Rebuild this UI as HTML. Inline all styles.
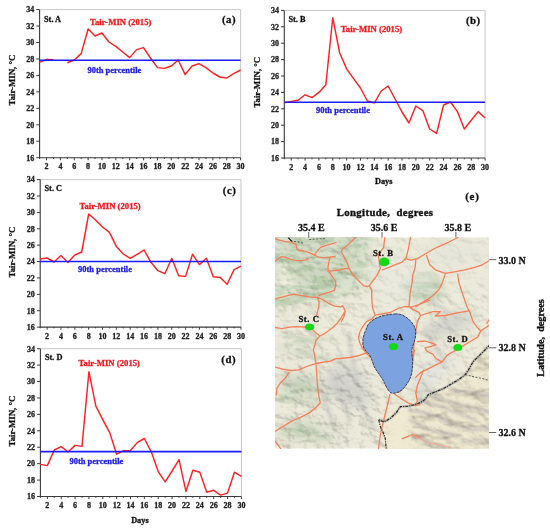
<!DOCTYPE html>
<html><head><meta charset="utf-8"><style>
html,body{margin:0;padding:0;background:#fff;}
svg{display:block;}
text{font-family:"Liberation Serif", serif;font-weight:bold;stroke-width:0.3px;paint-order:stroke;}
.tk,.lb,.st,.yl,.dy,.ms,.ax{stroke:#222;}
.tr{stroke:#f01c1c;}
.pc{stroke:#2020e0;}
.tk{font-size:8px;fill:#222;}
.tr{font-size:8.7px;fill:#f01c1c;}
.pc{font-size:8.5px;fill:#2020e0;}
.lb{font-size:10.8px;fill:#111;letter-spacing:0.5px;}
.st{font-size:8.3px;fill:#111;}
.yl{font-size:8.8px;fill:#111;}
.dy{font-size:8.3px;fill:#111;}
.ms{font-size:8.7px;fill:#111;letter-spacing:0.55px;}
.ax{font-size:10px;fill:#111;}
</style></head><body>
<svg width="550" height="530" viewBox="0 0 550 530">
<defs><filter id="gb" x="0" y="0" width="100%" height="100%"><feGaussianBlur stdDeviation="0.3"/></filter></defs>
<g filter="url(#gb)">
<rect width="550" height="530" fill="#fff"/>
<path d="M39.6 9.6H240.6V157.7" fill="none" stroke="#c8c8c8" stroke-width="1"/>
<path d="M39.6 9.6V157.7H240.6" fill="none" stroke="#3a3a3a" stroke-width="1.1"/>
<path d="M36.3 9.6H39.6M36.3 26.06H39.6M36.3 42.51H39.6M36.3 58.97H39.6M36.3 75.42H39.6M36.3 91.88H39.6M36.3 108.33H39.6M36.3 124.79H39.6M36.3 141.24H39.6M36.3 157.7H39.6M39.6 157.7V159M46.53 157.7V160.3M53.46 157.7V159M60.39 157.7V160.3M67.32 157.7V159M74.26 157.7V160.3M81.19 157.7V159M88.12 157.7V160.3M95.05 157.7V159M101.98 157.7V160.3M108.91 157.7V159M115.84 157.7V160.3M122.77 157.7V159M129.7 157.7V160.3M136.63 157.7V159M143.57 157.7V160.3M150.5 157.7V159M157.43 157.7V160.3M164.36 157.7V159M171.29 157.7V160.3M178.22 157.7V159M185.15 157.7V160.3M192.08 157.7V159M199.01 157.7V160.3M205.94 157.7V159M212.88 157.7V160.3M219.81 157.7V159M226.74 157.7V160.3M233.67 157.7V159M240.6 157.7V160.3" stroke="#3a3a3a" stroke-width="1"/>
<text x="34.2" y="12.4" class="tk" text-anchor="end">34</text>
<text x="34.2" y="28.86" class="tk" text-anchor="end">32</text>
<text x="34.2" y="45.31" class="tk" text-anchor="end">30</text>
<text x="34.2" y="61.77" class="tk" text-anchor="end">28</text>
<text x="34.2" y="78.22" class="tk" text-anchor="end">26</text>
<text x="34.2" y="94.68" class="tk" text-anchor="end">24</text>
<text x="34.2" y="111.13" class="tk" text-anchor="end">22</text>
<text x="34.2" y="127.59" class="tk" text-anchor="end">20</text>
<text x="34.2" y="144.04" class="tk" text-anchor="end">18</text>
<text x="34.2" y="160.5" class="tk" text-anchor="end">16</text>
<text x="46.53" y="169.3" class="tk" text-anchor="middle">2</text>
<text x="60.39" y="169.3" class="tk" text-anchor="middle">4</text>
<text x="74.26" y="169.3" class="tk" text-anchor="middle">6</text>
<text x="88.12" y="169.3" class="tk" text-anchor="middle">8</text>
<text x="101.98" y="169.3" class="tk" text-anchor="middle">10</text>
<text x="115.84" y="169.3" class="tk" text-anchor="middle">12</text>
<text x="129.7" y="169.3" class="tk" text-anchor="middle">14</text>
<text x="143.57" y="169.3" class="tk" text-anchor="middle">16</text>
<text x="157.43" y="169.3" class="tk" text-anchor="middle">18</text>
<text x="171.29" y="169.3" class="tk" text-anchor="middle">20</text>
<text x="185.15" y="169.3" class="tk" text-anchor="middle">22</text>
<text x="199.01" y="169.3" class="tk" text-anchor="middle">24</text>
<text x="212.88" y="169.3" class="tk" text-anchor="middle">26</text>
<text x="226.74" y="169.3" class="tk" text-anchor="middle">28</text>
<text x="240.6" y="169.3" class="tk" text-anchor="middle">30</text>
<path d="M39.6 62.3 L46.53 59.4 L53.46 59.7M67.32 62.7 L74.26 60 L81.19 53.6 L88.12 29 L95.05 36 L101.98 33 L108.91 42 L115.84 46.4 L122.77 52 L129.7 57.6 L136.63 49.6 L143.57 47.6 L150.5 58 L157.43 67.6 L164.36 68.4 L171.29 66 L178.22 60 L185.15 74.6 L192.08 66 L199.01 63.6 L205.94 67.6 L212.88 73 L219.81 77 L226.74 78 L233.67 73.6 L240.6 70" fill="none" stroke="#ff2020" stroke-width="1.45" stroke-linejoin="round"/>
<line x1="39.6" y1="60.3" x2="240.6" y2="60.3" stroke="#1a1af5" stroke-width="1.55"/>
<text x="90" y="24.6" class="tr">Tair-MIN (2015)</text>
<text x="87.4" y="73.4" class="pc">90th percentile</text>
<text x="222" y="23.4" class="lb">(a)</text>
<text x="44" y="21.9" class="st">St. A</text>
<text transform="translate(15.3 80) rotate(-90)" class="yl" text-anchor="middle">Tair-MIN, °C</text>
<path d="M284.3 10.4H485.1V158" fill="none" stroke="#c8c8c8" stroke-width="1"/>
<path d="M284.3 10.4V158H485.1" fill="none" stroke="#3a3a3a" stroke-width="1.1"/>
<path d="M281 10.4H284.3M281 26.8H284.3M281 43.2H284.3M281 59.6H284.3M281 76H284.3M281 92.4H284.3M281 108.8H284.3M281 125.2H284.3M281 141.6H284.3M281 158H284.3M284.3 158V159.3M291.22 158V160.6M298.15 158V159.3M305.07 158V160.6M312 158V159.3M318.92 158V160.6M325.84 158V159.3M332.77 158V160.6M339.69 158V159.3M346.62 158V160.6M353.54 158V159.3M360.47 158V160.6M367.39 158V159.3M374.31 158V160.6M381.24 158V159.3M388.16 158V160.6M395.09 158V159.3M402.01 158V160.6M408.93 158V159.3M415.86 158V160.6M422.78 158V159.3M429.71 158V160.6M436.63 158V159.3M443.56 158V160.6M450.48 158V159.3M457.4 158V160.6M464.33 158V159.3M471.25 158V160.6M478.18 158V159.3M485.1 158V160.6" stroke="#3a3a3a" stroke-width="1"/>
<text x="278.9" y="13.2" class="tk" text-anchor="end">34</text>
<text x="278.9" y="29.6" class="tk" text-anchor="end">32</text>
<text x="278.9" y="46" class="tk" text-anchor="end">30</text>
<text x="278.9" y="62.4" class="tk" text-anchor="end">28</text>
<text x="278.9" y="78.8" class="tk" text-anchor="end">26</text>
<text x="278.9" y="95.2" class="tk" text-anchor="end">24</text>
<text x="278.9" y="111.6" class="tk" text-anchor="end">22</text>
<text x="278.9" y="128" class="tk" text-anchor="end">20</text>
<text x="278.9" y="144.4" class="tk" text-anchor="end">18</text>
<text x="278.9" y="160.8" class="tk" text-anchor="end">16</text>
<text x="291.22" y="169.6" class="tk" text-anchor="middle">2</text>
<text x="305.07" y="169.6" class="tk" text-anchor="middle">4</text>
<text x="318.92" y="169.6" class="tk" text-anchor="middle">6</text>
<text x="332.77" y="169.6" class="tk" text-anchor="middle">8</text>
<text x="346.62" y="169.6" class="tk" text-anchor="middle">10</text>
<text x="360.47" y="169.6" class="tk" text-anchor="middle">12</text>
<text x="374.31" y="169.6" class="tk" text-anchor="middle">14</text>
<text x="388.16" y="169.6" class="tk" text-anchor="middle">16</text>
<text x="402.01" y="169.6" class="tk" text-anchor="middle">18</text>
<text x="415.86" y="169.6" class="tk" text-anchor="middle">20</text>
<text x="429.71" y="169.6" class="tk" text-anchor="middle">22</text>
<text x="443.56" y="169.6" class="tk" text-anchor="middle">24</text>
<text x="457.4" y="169.6" class="tk" text-anchor="middle">26</text>
<text x="471.25" y="169.6" class="tk" text-anchor="middle">28</text>
<text x="485.1" y="169.6" class="tk" text-anchor="middle">30</text>
<path d="M284.3 102.8 L291.22 101.5 L298.15 100.3 L305.07 94.8 L312 97.6 L318.92 92.4 L325.84 84.8 L332.77 17.8 L339.69 53 L346.62 68.8 L353.54 78.6 L360.47 88 L367.39 101 L374.31 103 L381.24 91 L388.16 86 L395.09 99 L402.01 112 L408.93 123 L415.86 106 L422.78 110.6 L429.71 129 L436.63 133.4 L443.56 105 L450.48 102 L457.4 111.6 L464.33 129 L471.25 120.2 L478.18 111.6 L485.1 118" fill="none" stroke="#ff2020" stroke-width="1.45" stroke-linejoin="round"/>
<line x1="284.3" y1="102.3" x2="485.1" y2="102.3" stroke="#1a1af5" stroke-width="1.55"/>
<text x="340.8" y="32.4" class="tr">Tair-MIN (2015)</text>
<text x="316" y="113.4" class="pc">90th percentile</text>
<text x="465.9" y="24.3" class="lb">(b)</text>
<text x="288.4" y="22.3" class="st">St. B</text>
<text transform="translate(259.9 82.2) rotate(-90)" class="yl" text-anchor="middle">Tair-MIN, °C</text>
<text x="383.7" y="184.3" class="dy" text-anchor="middle">Days</text>
<path d="M40.2 179.6H241V327.1" fill="none" stroke="#c8c8c8" stroke-width="1"/>
<path d="M40.2 179.6V327.1H241" fill="none" stroke="#3a3a3a" stroke-width="1.1"/>
<path d="M36.9 179.6H40.2M36.9 195.99H40.2M36.9 212.38H40.2M36.9 228.77H40.2M36.9 245.16H40.2M36.9 261.54H40.2M36.9 277.93H40.2M36.9 294.32H40.2M36.9 310.71H40.2M36.9 327.1H40.2M40.2 327.1V328.4M47.12 327.1V329.7M54.05 327.1V328.4M60.97 327.1V329.7M67.9 327.1V328.4M74.82 327.1V329.7M81.74 327.1V328.4M88.67 327.1V329.7M95.59 327.1V328.4M102.52 327.1V329.7M109.44 327.1V328.4M116.37 327.1V329.7M123.29 327.1V328.4M130.21 327.1V329.7M137.14 327.1V328.4M144.06 327.1V329.7M150.99 327.1V328.4M157.91 327.1V329.7M164.83 327.1V328.4M171.76 327.1V329.7M178.68 327.1V328.4M185.61 327.1V329.7M192.53 327.1V328.4M199.46 327.1V329.7M206.38 327.1V328.4M213.3 327.1V329.7M220.23 327.1V328.4M227.15 327.1V329.7M234.08 327.1V328.4M241 327.1V329.7" stroke="#3a3a3a" stroke-width="1"/>
<text x="34.8" y="182.4" class="tk" text-anchor="end">34</text>
<text x="34.8" y="198.79" class="tk" text-anchor="end">32</text>
<text x="34.8" y="215.18" class="tk" text-anchor="end">30</text>
<text x="34.8" y="231.57" class="tk" text-anchor="end">28</text>
<text x="34.8" y="247.96" class="tk" text-anchor="end">26</text>
<text x="34.8" y="264.34" class="tk" text-anchor="end">24</text>
<text x="34.8" y="280.73" class="tk" text-anchor="end">22</text>
<text x="34.8" y="297.12" class="tk" text-anchor="end">20</text>
<text x="34.8" y="313.51" class="tk" text-anchor="end">18</text>
<text x="34.8" y="329.9" class="tk" text-anchor="end">16</text>
<text x="47.12" y="338.7" class="tk" text-anchor="middle">2</text>
<text x="60.97" y="338.7" class="tk" text-anchor="middle">4</text>
<text x="74.82" y="338.7" class="tk" text-anchor="middle">6</text>
<text x="88.67" y="338.7" class="tk" text-anchor="middle">8</text>
<text x="102.52" y="338.7" class="tk" text-anchor="middle">10</text>
<text x="116.37" y="338.7" class="tk" text-anchor="middle">12</text>
<text x="130.21" y="338.7" class="tk" text-anchor="middle">14</text>
<text x="144.06" y="338.7" class="tk" text-anchor="middle">16</text>
<text x="157.91" y="338.7" class="tk" text-anchor="middle">18</text>
<text x="171.76" y="338.7" class="tk" text-anchor="middle">20</text>
<text x="185.61" y="338.7" class="tk" text-anchor="middle">22</text>
<text x="199.46" y="338.7" class="tk" text-anchor="middle">24</text>
<text x="213.3" y="338.7" class="tk" text-anchor="middle">26</text>
<text x="227.15" y="338.7" class="tk" text-anchor="middle">28</text>
<text x="241" y="338.7" class="tk" text-anchor="middle">30</text>
<path d="M40.2 259 L47.12 258 L54.05 262 L60.97 255.4 L67.9 262.6 L74.82 255 L81.74 252 L88.67 214 L95.59 220 L102.52 227 L109.44 232.4 L116.37 246.4 L123.29 254 L130.21 258.4 L137.14 254.4 L144.06 250 L150.99 262.3 L157.91 270.7 L164.83 273.7 L171.76 258.3 L178.68 275.7 L185.61 276.4 L192.53 254.2 L199.46 264.6 L206.38 258.3 L213.3 276.8 L220.23 277.5 L227.15 284.3 L234.08 269.6 L241 266.2" fill="none" stroke="#ff2020" stroke-width="1.45" stroke-linejoin="round"/>
<line x1="40.2" y1="261.5" x2="241" y2="261.5" stroke="#1a1af5" stroke-width="1.55"/>
<text x="79.4" y="209.4" class="tr">Tair-MIN (2015)</text>
<text x="78" y="272" class="pc">90th percentile</text>
<text x="222.8" y="194.4" class="lb">(c)</text>
<text x="44.5" y="190.9" class="st">St. C</text>
<text transform="translate(15.4 252) rotate(-90)" class="yl" text-anchor="middle">Tair-MIN, °C</text>
<path d="M40.4 348.7H241.4V496.5" fill="none" stroke="#c8c8c8" stroke-width="1"/>
<path d="M40.4 348.7V496.5H241.4" fill="none" stroke="#3a3a3a" stroke-width="1.1"/>
<path d="M37.1 348.7H40.4M37.1 365.12H40.4M37.1 381.54H40.4M37.1 397.97H40.4M37.1 414.39H40.4M37.1 430.81H40.4M37.1 447.23H40.4M37.1 463.66H40.4M37.1 480.08H40.4M37.1 496.5H40.4M40.4 496.5V497.8M47.33 496.5V499.1M54.26 496.5V497.8M61.19 496.5V499.1M68.12 496.5V497.8M75.06 496.5V499.1M81.99 496.5V497.8M88.92 496.5V499.1M95.85 496.5V497.8M102.78 496.5V499.1M109.71 496.5V497.8M116.64 496.5V499.1M123.57 496.5V497.8M130.5 496.5V499.1M137.43 496.5V497.8M144.37 496.5V499.1M151.3 496.5V497.8M158.23 496.5V499.1M165.16 496.5V497.8M172.09 496.5V499.1M179.02 496.5V497.8M185.95 496.5V499.1M192.88 496.5V497.8M199.81 496.5V499.1M206.74 496.5V497.8M213.68 496.5V499.1M220.61 496.5V497.8M227.54 496.5V499.1M234.47 496.5V497.8M241.4 496.5V499.1" stroke="#3a3a3a" stroke-width="1"/>
<text x="35" y="351.5" class="tk" text-anchor="end">34</text>
<text x="35" y="367.92" class="tk" text-anchor="end">32</text>
<text x="35" y="384.34" class="tk" text-anchor="end">30</text>
<text x="35" y="400.77" class="tk" text-anchor="end">28</text>
<text x="35" y="417.19" class="tk" text-anchor="end">26</text>
<text x="35" y="433.61" class="tk" text-anchor="end">24</text>
<text x="35" y="450.03" class="tk" text-anchor="end">22</text>
<text x="35" y="466.46" class="tk" text-anchor="end">20</text>
<text x="35" y="482.88" class="tk" text-anchor="end">18</text>
<text x="35" y="499.3" class="tk" text-anchor="end">16</text>
<text x="47.33" y="508.1" class="tk" text-anchor="middle">2</text>
<text x="61.19" y="508.1" class="tk" text-anchor="middle">4</text>
<text x="75.06" y="508.1" class="tk" text-anchor="middle">6</text>
<text x="88.92" y="508.1" class="tk" text-anchor="middle">8</text>
<text x="102.78" y="508.1" class="tk" text-anchor="middle">10</text>
<text x="116.64" y="508.1" class="tk" text-anchor="middle">12</text>
<text x="130.5" y="508.1" class="tk" text-anchor="middle">14</text>
<text x="144.37" y="508.1" class="tk" text-anchor="middle">16</text>
<text x="158.23" y="508.1" class="tk" text-anchor="middle">18</text>
<text x="172.09" y="508.1" class="tk" text-anchor="middle">20</text>
<text x="185.95" y="508.1" class="tk" text-anchor="middle">22</text>
<text x="199.81" y="508.1" class="tk" text-anchor="middle">24</text>
<text x="213.68" y="508.1" class="tk" text-anchor="middle">26</text>
<text x="227.54" y="508.1" class="tk" text-anchor="middle">28</text>
<text x="241.4" y="508.1" class="tk" text-anchor="middle">30</text>
<path d="M40.4 464.4 L47.33 465.6 L54.26 450 L61.19 446.6 L68.12 452 L75.06 445.4 L81.99 446.4 L88.92 371.7 L95.85 406.2 L102.78 419.6 L109.71 432.6 L116.64 454.2 L123.57 450.7 L130.5 450.5 L137.43 442.4 L144.37 438.5 L151.3 451.8 L158.23 471.6 L165.16 481.8 L172.09 471 L179.02 459.7 L185.95 491.4 L192.88 470.2 L199.81 472.2 L206.74 492.3 L213.68 490.3 L220.61 495.1 L227.54 493.1 L234.47 472.2 L241.4 476.4" fill="none" stroke="#ff2020" stroke-width="1.45" stroke-linejoin="round"/>
<line x1="40.4" y1="451.6" x2="241.4" y2="451.6" stroke="#1a1af5" stroke-width="1.55"/>
<text x="78.6" y="366" class="tr">Tair-MIN (2015)</text>
<text x="69.4" y="464.4" class="pc">90th percentile</text>
<text x="221.3" y="363.3" class="lb">(d)</text>
<text x="44.9" y="360.3" class="st">St. D</text>
<text transform="translate(15.4 421) rotate(-90)" class="yl" text-anchor="middle">Tair-MIN, °C</text>
<text x="139.9" y="522.8" class="dy" text-anchor="middle">Days</text>
<defs>
<clipPath id="mc"><rect x="275" y="237.5" width="214" height="211"/></clipPath>
<filter id="bl" x="-30%" y="-30%" width="160%" height="160%"><feGaussianBlur stdDeviation="5"/></filter>
<filter id="bl2" x="-30%" y="-30%" width="160%" height="160%"><feGaussianBlur stdDeviation="1.8"/></filter>
<filter id="tx" x="0" y="0" width="100%" height="100%" color-interpolation-filters="sRGB">
<feTurbulence type="fractalNoise" baseFrequency="0.09 0.12" numOctaves="3" seed="5" result="n"/>
<feDiffuseLighting in="n" lighting-color="#ffffff" surfaceScale="4" diffuseConstant="1.3" result="L">
<feDistantLight azimuth="315" elevation="50"/>
</feDiffuseLighting>
<feGaussianBlur stdDeviation="0.5"/>
</filter>
<filter id="gn" x="0" y="0" width="100%" height="100%" color-interpolation-filters="sRGB">
<feTurbulence type="fractalNoise" baseFrequency="0.045 0.14" numOctaves="3" seed="21" result="n"/>
<feColorMatrix in="n" type="matrix" values="0 0 0 0 0.62  0 0 0 0 0.74  0 0 0 0 0.58  0 0 0 -4.5 2.55"/>
</filter>
<mask id="rm" maskUnits="userSpaceOnUse" x="270" y="230" width="225" height="225">
<rect x="270" y="230" width="225" height="225" fill="#6a6a6a"/>
<g filter="url(#bl)">
<path d="M270 232 L372 232 L368 265 L355 295 L330 305 L270 310Z" fill="#8a8a8a"/>
<rect x="372" y="232" width="40" height="75" fill="#444"/>
<rect x="410" y="232" width="85" height="55" fill="#333"/>
<path d="M490.0 344.8 L485.4 349.5 L479.2 355.6 L473.0 361.8 L468.4 370.0 L465.3 374.6 L459.1 379.3 L451.4 383.9 L443.6 388.5 L435.9 391.6 L428.2 394.7 L425.1 399.4 L420.5 402.5 L414.3 404.8 L408.1 406.3 L400.4 406.6 L396.6 412.3 L390.9 417.9 L386.2 420.8 L383.4 421.7 L378.7 419.8 L378.7 419.8 L380.6 427.4 L383.4 433.0 L385.3 438.7 L386.2 449.0 L386.2 455.0 L495.0 455.0 L495.0 344.8Z" fill="#666"/>
<path d="M382 412 L410 405 L413 420 L409 455 L386 455Z" fill="#000"/>
<rect x="275" y="360" width="70" height="95" fill="#999"/>
<rect x="345" y="370" width="40" height="80" fill="#aaa"/>
</g>
</mask>
<mask id="gm" maskUnits="userSpaceOnUse" x="270" y="230" width="225" height="225">
<g filter="url(#bl)">
<path d="M270 232 L372 232 L368 265 L355 295 L330 305 L270 310Z" fill="#fff"/>
<ellipse cx="425" cy="288" rx="22" ry="14" fill="#bbb"/>
<ellipse cx="305" cy="395" rx="30" ry="12" fill="#bbb"/>
<ellipse cx="305" cy="432" rx="28" ry="10" fill="#ccc"/>
<ellipse cx="360" cy="270" rx="14" ry="20" fill="#aaa"/>
<ellipse cx="310" cy="345" rx="30" ry="10" fill="#888"/>
<ellipse cx="284" cy="279" rx="9" ry="12" fill="#000"/>
</g>
</mask>
<filter id="tx3" x="0" y="0" width="100%" height="100%" color-interpolation-filters="sRGB">
<feTurbulence type="fractalNoise" baseFrequency="0.035 0.055" numOctaves="3" seed="17" result="n"/>
<feDiffuseLighting in="n" lighting-color="#fff8f4" surfaceScale="4.5" diffuseConstant="1.45">
<feDistantLight azimuth="300" elevation="45"/>
</feDiffuseLighting>
<feGaussianBlur stdDeviation="0.6"/>
</filter>
<mask id="sem" maskUnits="userSpaceOnUse" x="270" y="230" width="225" height="225">
<path d="M490.0 344.8 L485.4 349.5 L479.2 355.6 L473.0 361.8 L468.4 370.0 L465.3 374.6 L459.1 379.3 L451.4 383.9 L443.6 388.5 L435.9 391.6 L428.2 394.7 L425.1 399.4 L420.5 402.5 L414.3 404.8 L408.1 406.3 L400.4 406.6 L396.6 412.3 L390.9 417.9 L386.2 420.8 L383.4 421.7 L378.7 419.8 L378.7 419.8 L380.6 427.4 L383.4 433.0 L385.3 438.7 L386.2 449.0 L386.2 455.0 L495.0 455.0 L495.0 344.8Z" fill="#fff"/>
<path d="M382 412 L410 405 L413 420 L409 455 L386 455Z" fill="#000"/>
</mask>
</defs>
<g clip-path="url(#mc)">
<rect x="275" y="237.5" width="214" height="211" fill="#eceada"/>
<g filter="url(#bl)">
<path d="M270 232 L372 232 L368 265 L355 290 L330 300 L270 305Z" fill="#d9e1cd"/>
<ellipse cx="310" cy="275" rx="28" ry="11" fill="#cfdbc2" transform="rotate(12 310 275)"/>
<ellipse cx="345" cy="262" rx="12" ry="9" fill="#cdd8c0"/>
<ellipse cx="284" cy="279" rx="10" ry="13" fill="#efeedc"/>
<ellipse cx="300" cy="248" rx="20" ry="6" fill="#cdd8c2"/>
<ellipse cx="395" cy="282" rx="20" ry="28" fill="#e9e9dd"/>
<ellipse cx="455" cy="255" rx="30" ry="14" fill="#e6e6da"/>
<ellipse cx="425" cy="290" rx="18" ry="12" fill="#d4dccb"/>
<ellipse cx="450" cy="325" rx="28" ry="10" fill="#d6d8cf" transform="rotate(-20 450 325)"/>
<ellipse cx="425" cy="380" rx="9" ry="20" fill="#d0d3c8" transform="rotate(20 425 380)"/>
<ellipse cx="352" cy="385" rx="16" ry="28" fill="#dadbd2" transform="rotate(-30 352 385)"/>
<ellipse cx="300" cy="345" rx="22" ry="10" fill="#e6e6d8"/>
<ellipse cx="300" cy="385" rx="22" ry="12" fill="#d3d9c6"/>
<ellipse cx="300" cy="430" rx="20" ry="10" fill="#d2d9c4"/>
<ellipse cx="335" cy="430" rx="14" ry="18" fill="#e6e4d6"/>
<ellipse cx="432" cy="370" rx="26" ry="11" fill="#e4e4de" transform="rotate(-35 432 370)"/>
<ellipse cx="440" cy="327" rx="16" ry="6" fill="#d2d2cc" transform="rotate(-15 440 327)"/>
<ellipse cx="343" cy="388" rx="20" ry="14" fill="#d3d2cc" transform="rotate(35 343 388)"/>
<path d="M490.0 344.8 L485.4 349.5 L479.2 355.6 L473.0 361.8 L468.4 370.0 L465.3 374.6 L459.1 379.3 L451.4 383.9 L443.6 388.5 L435.9 391.6 L428.2 394.7 L425.1 399.4 L420.5 402.5 L414.3 404.8 L408.1 406.3 L400.4 406.6 L396.6 412.3 L390.9 417.9 L386.2 420.8 L383.4 421.7 L378.7 419.8 L378.7 419.8 L380.6 427.4 L383.4 433.0 L385.3 438.7 L386.2 449.0 L386.2 455.0 L495.0 455.0 L495.0 344.8Z" fill="#eee8d0"/>
<path d="M382 412 L410 405 L413 420 L409 455 L386 455Z" fill="#f0ead2"/>
</g>
<g filter="url(#bl2)" opacity="0.85" fill="none" stroke-linecap="round">
<path d="M410 410 L430 414 L446 420 M420 400 L440 406 L460 414 L476 420 M434 396 L450 402 L470 408 L490 412 M410 420 L424 428 L440 432 L460 436 M450 390 L470 392 L490 396 M416 436 L430 444 L446 448 M455 425 L472 430 L490 428 M462 442 L490 440 M440 418 L452 426" stroke="#c8c0ba" stroke-width="3.4"/>
<path d="M285 300 L330 285 M290 268 L340 276 M282 332 L320 345 M300 352 L340 362 M282 398 L325 405 M285 418 L330 440" stroke="#c9d1bd" stroke-width="3"/>
<path d="M348 335 L360 398 M425 330 L445 362 M430 300 L460 320 M355 395 L375 430 M330 370 L350 420 M320 385 L335 430" stroke="#cfcfc8" stroke-width="4"/>
</g>
<rect x="275" y="237.5" width="214" height="211" filter="url(#gn)" mask="url(#gm)" opacity="0.5"/>
<rect x="275" y="237.5" width="214" height="211" filter="url(#tx)" style="mix-blend-mode:multiply" mask="url(#rm)" opacity="0.33"/>
<rect x="275" y="237.5" width="214" height="211" filter="url(#tx3)" style="mix-blend-mode:multiply" mask="url(#sem)" opacity="0.3"/>
<path d="M275.0 238.6 L279.2 240.1 L285.4 241.7 L291.6 242.2 L295.8 244.3 L296.8 248.4 L298.9 250.5 L304.1 251.0 L309.2 252.6 L314.4 255.2 L318.6 257.2 L324.8 257.8 L330.0 257.2 L335.0 256.5M314.4 255.2 L317.5 250.5 L320.7 247.4 L324.8 245.8 L330.0 244.3 L336.0 242.5M275.0 261.4 L278.1 258.8 L281.2 256.7 L285.4 257.2 L290.6 259.3 L295.8 260.4 L300.9 260.7 L306.1 259.8 L308.2 258.8M330.0 257.2 L329.0 261.9 L327.9 267.1 L328.4 271.2 L332.0 276.0 L335.5 281.0 L335.8 285.0 L334.4 290.3 L329.2 292.3 L322.5 294.2 L318.6 295.6M275.0 298.9 L282.9 296.9 L293.5 294.2 L301.4 295.6 L309.3 296.9 L317.3 297.5 L322.5 299.5 L327.8 302.8 L334.4 306.1 L341.0 306.8 L342.6 305.8M317.3 297.5 L319.2 302.2 L318.6 307.5 L317.3 312.7 L316.6 315.4M275.0 327.3 L281.6 328.6 L288.2 327.3 L294.8 326.6 L305.4 327.0M312.0 329.0 L316.0 333.0 L320.0 336.0 L324.0 334.0 L327.8 331.2 L333.1 327.3 L337.1 323.3 L341.0 318.0 L345.0 311.4M316.0 340.5 L314.6 345.8 L313.3 349.7 L314.6 355.0 L315.9 363.2 L316.6 372.5 L317.3 384.3 L318.6 394.9 L320.2 402.7 L315.7 407.8 L309.4 412.9 L300.5 417.4 L292.8 420.5 L286.5 424.4 L280.1 428.2 L275.0 431.4M320.0 336.0 L318.0 338.0 L316.0 340.5M275.0 367.2 L282.9 369.2 L290.8 370.5 L298.8 369.8 L306.7 366.5 L314.6 363.9 L321.2 362.5 L330.5 361.2 L335.8 358.6 L340.0 358.5 L349.4 357.5 L358.9 355.7 L366.4 352.8M288.9 372.5 L285.6 377.7 L280.3 383.0 L277.0 388.3 L276.3 394.9M275.0 440.9 L278.8 446.0 L281.4 449.8M355.8 237.5 L351.9 241.0 L347.9 244.9 L342.6 248.9 L341.3 251.5 L344.0 256.8 L347.3 263.4 L349.2 268.7 L353.2 275.3 L358.5 280.6 L363.8 285.9 L367.7 286.5 L369.1 285.9M328.4 271.2 L340.0 270.0 L345.3 268.7 L349.2 268.7M384.9 237.5 L384.2 242.3 L383.6 247.6 L379.6 252.8 L378.3 255.5 L379.6 263.4 L380.3 268.7 L377.0 275.3 L373.0 280.6 L369.1 285.9 L371.7 289.8 L371.7 296.4 L372.4 307.0 L373.7 311.1 L375.0 315.1 L371.7 319.1 L366.4 321.7 L362.5 327.0 L359.8 332.3 L358.5 337.5 L359.8 342.8 L362.5 348.1 L366.4 353.4 L370.4 357.4M382.3 270.0 L388.9 267.4 L395.5 264.7 L402.1 262.1 L406.0 258.1 L407.4 252.8 L408.7 247.6 L410.4 237.5M375.0 315.1 L382.3 313.8 L390.2 312.5 L398.1 308.5 L404.7 306.5 L411.2 307.0 L418.9 304.6 L426.6 301.5 L429.7 300.0M340.0 307.2 L342.6 305.8 L345.3 311.1 L344.0 316.4 L341.3 321.7M390.0 394.3 L387.5 405.0 L384.5 417.0 L381.5 429.0 L379.5 440.0 L378.5 449.0M394.7 394.3 L400.4 398.1 L407.9 402.8 L415.5 405.7 L420.0 404.7M414.5 350.0 L412.6 361.3 L409.8 376.4 L405.1 385.8 L398.5 392.5M423.5 370.0 L420.5 377.7 L417.4 385.5 L415.8 393.2 L417.4 400.9 L415.8 404.0M405.0 260.2 L405.0 258.6 L411.2 260.2 L417.4 258.6 L425.1 254.0 L435.9 247.8 L446.7 243.2 L456.0 238.5 L458.0 237.5M415.8 260.2 L415.0 267.9 L412.7 275.6 L412.0 283.4 L410.4 291.1 L409.6 298.8 L408.9 306.6 L409.6 300.0 L408.9 306.2 L412.7 309.3 L418.9 312.4 L420.5 315.5 L417.4 321.6 L415.8 330.9 L414.3 340.2 L413.5 349.5 L412.0 358.7 L410.4 368.0 L408.9 380.0M426.6 255.5 L429.7 264.8 L435.9 270.2 L445.2 273.3 L454.5 271.8 L463.7 270.2 L473.0 267.9 L482.3 264.8 L490.0 260.2M445.2 274.1 L442.1 283.4 L439.0 289.5 L432.8 295.7 L423.5 301.9 L415.8 306.6M457.6 274.1 L459.1 283.4 L462.2 292.6 L465.3 301.9 L466.8 306.2 L469.9 312.4 L473.0 321.6 L477.6 327.8 L480.7 330.9 L485.4 327.8 L490.0 324.7M420.5 315.5 L432.8 311.6 L440.5 311.6 L435.1 316.2 L445.2 315.5 L456.0 313.1 L468.4 310.8M480.7 330.9 L477.6 337.1 L469.9 341.7 L462.2 346.4 L457.6 349.5 L451.4 352.6 L446.7 355.6 L442.1 361.8 L435.9 364.9 L426.6 369.6 L420.5 372.6 L415.8 377.3M417.4 341.7 L425.1 341.0 L432.8 343.3 L435.9 344.8 L431.3 346.4 L425.1 347.9 L426.6 351.0 L432.8 354.1 L435.9 358.7 L442.1 361.8M486.9 323.2 L490.0 318.5M402.3 438.7 L411.7 434.9 L420.0 436.8" fill="none" stroke="#f4805a" stroke-width="1.3" stroke-linejoin="round" stroke-linecap="round" opacity="1"/>
<path d="M408.1 434.9 L415.8 436.5 L422.0 439.6 L428.2 442.6 L435.9 444.2 L443.6 445.7 L451.4 447.3" fill="none" stroke="#f2a58a" stroke-width="1" opacity="0.8"/>
<path d="M490.0 344.8 L485.4 349.5 L479.2 355.6 L473.0 361.8 L468.4 370.0 L465.3 374.6 L459.1 379.3 L451.4 383.9 L443.6 388.5 L435.9 391.6 L428.2 394.7 L425.1 399.4 L420.5 402.5 L414.3 404.8 L408.1 406.3 L400.4 406.6 L396.6 412.3 L390.9 417.9 L386.2 420.8 L383.4 421.7 L378.7 419.8" fill="none" stroke="#9a9a9a" stroke-width="2.6" opacity="0.55"/>
<path d="M490.0 344.8 L485.4 349.5 L479.2 355.6 L473.0 361.8 L468.4 370.0 L465.3 374.6 L459.1 379.3 L451.4 383.9 L443.6 388.5 L435.9 391.6 L428.2 394.7 L425.1 399.4 L420.5 402.5 L414.3 404.8 L408.1 406.3 L400.4 406.6 L396.6 412.3 L390.9 417.9 L386.2 420.8 L383.4 421.7 L378.7 419.8M378.7 419.8 L380.6 427.4 L383.4 433.0 L385.3 438.7 L386.2 449.0" fill="none" stroke="#262626" stroke-width="1.15" stroke-dasharray="3 1 1.2 1"/>
<path d="M465.3 374.6 L474.6 377.0 L482.3 378.5 L490.0 380.8M288.5 238.0 L291.6 241.2 L295.8 241.7 L299.9 242.2 L303.0 243.2M309.2 239.6 L314.4 239.1 L320.7 238.6 L324.8 238.6" fill="none" stroke="#3a3a3a" stroke-width="0.8" stroke-dasharray="2 1.5"/>
<path d="M288.3 237.6 L290.2 239.6 L291.8 241.3" fill="none" stroke="#222" stroke-width="1.3"/>
<path d="M396.1 313.9 L388.5 314.6 L381.6 316.0 L375.8 318.2 L371.2 321.2 L367.8 325.0 L366.0 329.5 L364.0 334.5 L362.9 339.9 L362.9 344.5 L363.9 348.2 L366.2 351.4 L369.1 354.4 L371.0 357.5 L372.2 360.6 L373.2 363.8 L374.3 366.9 L376.2 370.0 L378.4 373.1 L380.5 376.2 L382.6 379.4 L384.8 383.6 L386.8 387.7 L388.8 390.8 L390.9 392.9 L393.5 393.3 L396.1 392.9 L399.3 391.6 L402.3 389.7 L405.6 385.8 L408.6 381.4 L410.5 377.3 L411.7 373.1 L412.5 367.0 L412.7 360.6 L412.2 356.4 L411.7 352.3 L412.0 349.0 L412.7 346.1 L413.8 343.0 L414.8 339.9 L415.6 335.7 L415.8 331.6 L415.1 328.3 L413.8 325.3 L411.4 322.0 L408.6 319.1 L405.5 316.8 L402.3 314.9 L399.2 314.1Z" fill="#7ba3df" stroke="#36414d" stroke-width="1" stroke-dasharray="3 0.8"/>
</g>
<ellipse cx="393.4" cy="346.6" rx="4.7" ry="3.6" fill="#16d916"/>
<ellipse cx="384.2" cy="261.9" rx="5.3" ry="4.4" fill="#16d916"/>
<ellipse cx="309.6" cy="327" rx="4.7" ry="3.6" fill="#16d916"/>
<ellipse cx="457.8" cy="347.5" rx="4.4" ry="3.6" fill="#16d916"/>
<text x="383" y="340.1" class="ms">St. A</text>
<text x="372.9" y="255.5" class="ms">St. B</text>
<text x="298.4" y="321.8" class="ms">St. C</text>
<text x="447.2" y="341.7" class="ms">St. D</text>
<text x="465.2" y="199.8" style="font-size:11px;fill:#111;stroke:#111;letter-spacing:0.7px">(e)</text>
<text x="336.7" y="215.6" style="font-size:10.8px;fill:#111;stroke:#111;stroke-width:0.35px;letter-spacing:0.35px">Longitude,&#160;&#160;degrees</text>
<text x="311.3" y="230.6" text-anchor="middle" class="ax">35.4 E</text>
<text x="384.2" y="230.6" text-anchor="middle" class="ax">35.6 E</text>
<text x="457.8" y="230.6" text-anchor="middle" class="ax">35.8 E</text>
<text x="498.5" y="263.5" class="ax">33.0 N</text>
<text x="498.5" y="351.2" class="ax">32.8 N</text>
<text x="498.5" y="435.8" class="ax">32.6 N</text>
<path d="M308.7 232V237.5M382 232V237.5M455.9 232V237.5M489 259.7H496.3M489 347.8H496.3M489 432.5H496.3" stroke="#555" stroke-width="0.9"/>
<text transform="translate(544 338) rotate(-90)" text-anchor="middle" style="font-size:10.2px;fill:#111;stroke:#111;stroke-width:0.35px">Latitude,&#160;&#160;degrees</text>

</g>
</svg>
</body></html>
